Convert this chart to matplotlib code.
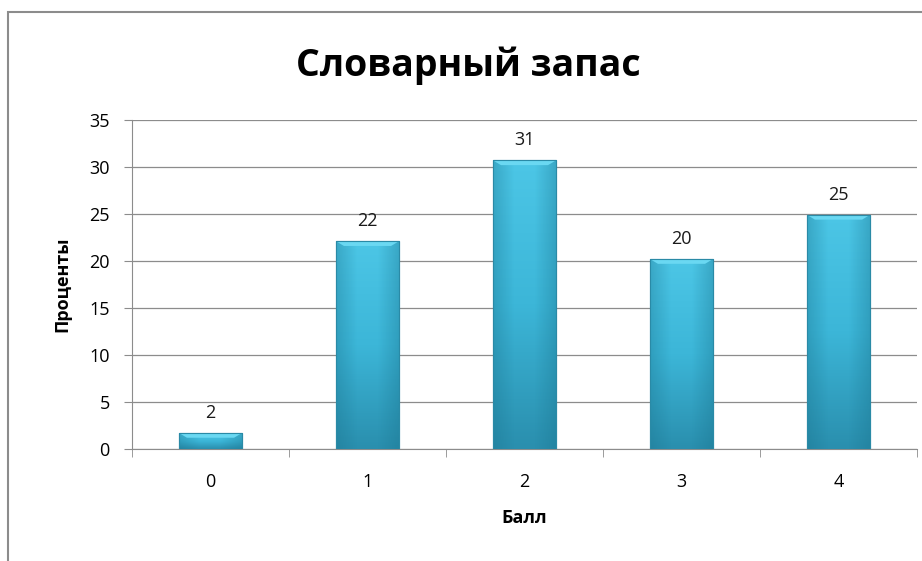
import numpy as np
import matplotlib.pyplot as plt
from matplotlib.colors import LinearSegmentedColormap
from matplotlib.patches import Rectangle

categories = ['0', '1', '2', '3', '4']
values = [1.7, 22.1, 30.7, 20.2, 24.9]
labels = ['2', '22', '31', '20', '25']

plt.rcParams['font.family'] = ['Open Sans', 'DejaVu Sans']

fig = plt.figure(figsize=(9.22, 5.61), dpi=100)
# outer chart border
fig.patches.append(Rectangle((8 / 922, -0.01), 1.0, 1 - 12 / 561 + 0.01, transform=fig.transFigure,
                             fill=False, edgecolor='#8c8c8c', linewidth=1.5))
ax = fig.add_axes([132 / 922, 112 / 561, (917 - 132) / 922, (449 - 120) / 561])

x = np.arange(len(categories))
bars = ax.bar(x, values, width=0.4, color='#3ab4d6', edgecolor='#2a8aa6', linewidth=0.8, zorder=3)

cmap = LinearSegmentedColormap.from_list('b', ['#2a8fae', '#3cb6d8', '#4cc6e6'])
grad = np.linspace(0, 1, 100).reshape(-1, 1)
side = LinearSegmentedColormap.from_list('s', [(0.1, 0.45, 0.55, 0.35), (0.1, 0.45, 0.55, 0.0),
                                                (0.1, 0.45, 0.55, 0.0), (0.1, 0.45, 0.55, 0.35)])
hgrad = np.linspace(0, 1, 100).reshape(1, -1)
for b in bars:
    x0, w, h = b.get_x(), b.get_width(), b.get_height()
    im = ax.imshow(grad, cmap=cmap, aspect='auto', origin='lower',
                   extent=(x0, x0 + w, 0, h), zorder=3.5)
    im.set_clip_path(b)
    im2 = ax.imshow(hgrad, cmap=side, aspect='auto', origin='lower',
                    extent=(x0, x0 + w, 0, h), zorder=3.6)
    im2.set_clip_path(b)
    # bevel on top
    bev = min(0.5, h * 0.3)
    ax.fill([x0, x0 + w, x0 + w - 0.05, x0 + 0.05], [h, h, h - bev, h - bev],
            color='#6ad8f2', zorder=4, linewidth=0)
    ax.plot([x0, x0 + w, x0 + w, x0, x0], [0, 0, h, h, 0], color='#2a8aa6', lw=0.8, zorder=5)

for xi, v, lab in zip(x, values, labels):
    ax.text(xi, v + 1.2, lab, ha='center', va='bottom', fontsize=13, color='#1a1a1a')

ax.set_xlim(-0.5, len(categories) - 0.5)
ax.set_ylim(0, 35)
ax.set_yticks(range(0, 36, 5))
ax.yaxis.grid(True, color='#8c8c8c', linewidth=0.9, zorder=0)
ax.set_axisbelow(True)

ax.set_xticks(x)
ax.set_xticklabels(categories)
ax.set_xticks(np.arange(-0.5, len(categories)), minor=True)
ax.tick_params(axis='x', which='major', length=0, pad=17, labelsize=13)
ax.tick_params(axis='x', which='minor', length=6, color='#8c8c8c')
ax.tick_params(axis='y', length=6, color='#8c8c8c', labelsize=13, pad=10)

for s in ['top', 'right']:
    ax.spines[s].set_visible(False)
for s in ['left', 'bottom']:
    ax.spines[s].set_color('#8c8c8c')

ax.set_xlabel('Балл', fontsize=13, fontweight='bold', labelpad=13)
ax.set_ylabel('Проценты', fontsize=13, fontweight='bold', labelpad=13)
fig.text(468 / 922, 1 - 66 / 561, 'Словарный запас', ha='center', va='center', fontsize=27, fontweight='bold')

fig.savefig('out.png', dpi=100)
